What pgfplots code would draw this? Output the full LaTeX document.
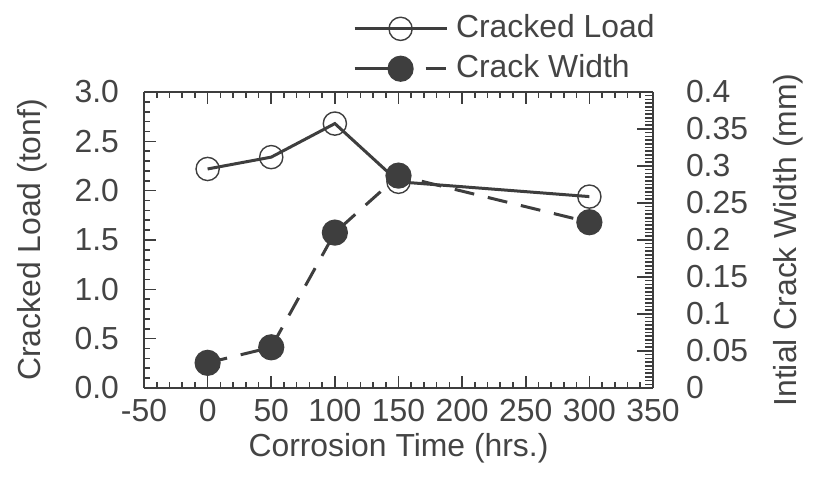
\documentclass[border=0pt]{standalone}
\usepackage{pgfplots}
\pgfplotsset{compat=1.18}
\usepackage{fontspec}
\setmainfont{Liberation Sans}

\definecolor{ink}{RGB}{62,62,62}
\definecolor{txt}{RGB}{68,68,68}

% Cracked load (tonf) versus corrosion time
\pgfplotstableread{
t    load
0    2.22
50   2.34
100  2.68
150  2.09
300  1.94
}\loadtable

% Initial crack width (mm) versus corrosion time
\pgfplotstableread{
t    width
0    0.034
50   0.055
100  0.210
150  0.287
300  0.224
}\widthtable

\pgfplotsset{
  common/.style={
    scale only axis,
    width=254.5bp, height=148bp,
    at={(0bp,0bp)}, anchor=south west,
    xmin=-50, xmax=350,
    axis line style={ink, line width=0.8bp},
    every tick/.style={ink, line width=0.8bp},
    tick align=inside,
    /pgf/number format/assume math mode=true,
    tick label style={text=txt},
    label style={text=txt},
  },
  loadleg/.style={
    legend image code/.code={
      \draw[##1, mark repeat=2, mark phase=2]
        plot coordinates {(0bp,0bp) (23bp,0bp) (46bp,0bp)};
    }},
  widthleg/.style={
    legend image code/.code={
      \draw[##1, dash pattern=on 19bp off 16.5bp on 10bp off 10bp,
        mark repeat=2, mark phase=2]
        plot coordinates {(0bp,0bp) (23bp,0bp) (46bp,0bp)};
    }},
  loadstyle/.style={ink, line width=1.5bp, mark=o, mark size=5.8bp,
    mark options={ink, line width=0.7bp, solid, fill=white}},
  widthstyle/.style={ink, line width=1.5bp, mark=*, mark size=5.8bp,
    mark options={ink, fill=ink, solid}},
}

\begin{document}
\fontsize{16}{19}\selectfont
\color{txt}
\begin{tikzpicture}
\useasboundingbox (-72bp,-46.5bp) rectangle (334.5bp,194bp);

\begin{axis}[
  common,
  axis y line*=left,
  ymin=0, ymax=3,
  xtick={-50,0,50,100,150,200,250,300,350},
  minor x tick num=4,
  xtick pos=both,
  ytick={0,0.5,1,1.5,2,2.5,3},
  minor y tick num=4,
  y tick label style={/pgf/number format/fixed,
    /pgf/number format/fixed zerofill,
    /pgf/number format/precision=1, xshift=-7bp},
  major tick length=6bp, minor tick length=3bp,
  xlabel={Corrosion Time (hrs.)},
  xlabel style={at={(axis description cs:0.5,-0.205)}, anchor=center},
  ylabel={Cracked Load (tonf)},
  ylabel style={at={(axis description cs:-0.22,0.5)}, anchor=center},
  legend style={
    at={(rel axis cs:0.41,1.272)}, anchor=north west,
    draw=none, fill=none, text=txt,
    row sep=3bp, column sep=2.5bp, inner sep=0pt,
    nodes={inner sep=1.5bp, anchor=west},
  },
  legend cell align=left,
]
\addplot[loadstyle, loadleg] table[x=t, y=load] {\loadtable};
\addlegendentry{Cracked Load}
\addlegendimage{widthstyle, widthleg}
\addlegendentry{Crack Width}
\end{axis}

\begin{axis}[
  common,
  axis y line*=right,
  axis x line=none,
  ymin=0, ymax=0.4,
  ytick={0,0.05,0.1,0.15,0.2,0.25,0.3,0.35,0.4},
  yticklabels={0,0.05,0.1,0.15,0.2,0.25,0.3,0.35,0.4},
  minor y tick num=9,
  major tick length=8bp, minor tick length=4bp,
  y tick label style={xshift=11bp},
  ylabel={Intial Crack Width (mm)},
  ylabel style={at={(axis description cs:1.265,0.5)}, anchor=center},
]
\addplot[widthstyle, dash pattern=on 10bp off 7bp]
  table[x=t, y=width] {\widthtable};
\end{axis}
\end{tikzpicture}
\end{document}
